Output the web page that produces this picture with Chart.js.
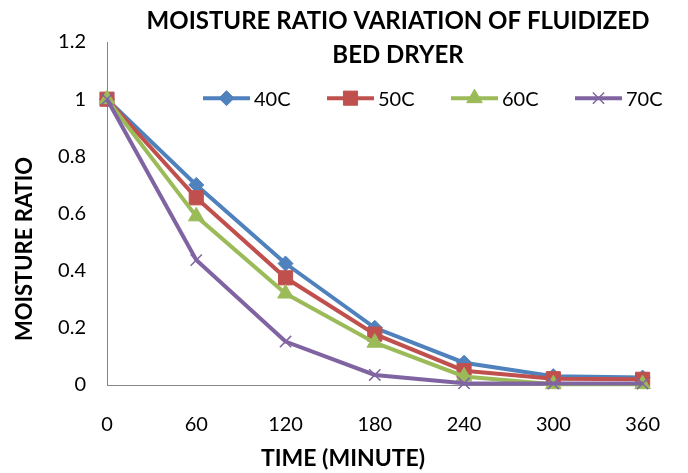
<!DOCTYPE html>
<html><head><meta charset="utf-8">
<script src="https://cdn.jsdelivr.net/npm/chart.js@4.4.1/dist/chart.umd.min.js"></script>
<style>html,body{margin:0;padding:0;background:#fff}canvas{display:block}</style>
</head><body>
<canvas id="c" width="688" height="473"></canvas>
<script>
// ---- data ----
const times = ['0','60','120','180','240','300','360'];
const mr40 = [1, 0.700, 0.425, 0.200, 0.078, 0.031, 0.026];
const mr50 = [1, 0.655, 0.375, 0.178, 0.050, 0.022, 0.020];
const mr60 = [1, 0.590, 0.320, 0.148, 0.030, 0.003, 0.003];
const mr70 = [1, 0.437, 0.152, 0.035, 0.006, 0.005, 0.005];
const seriesNames = ['40C', '50C', '60C', '70C'];
const yTickLabels = ['0', '0.2', '0.4', '0.6', '0.8', '1', '1.2'];
const chartTitle = ['MOISTURE RATIO VARIATION OF FLUIDIZED', 'BED DRYER'];
const xTitle = 'TIME (MINUTE)';
const yTitle = 'MOISTURE RATIO';

// ---- styles ----
const FONT = 'Lato, "Open Sans", Arial, sans-serif';
const colors = ['#4F81BD', '#C0504D', '#9BBB59', '#8064A2'];
const styles = [
  {pointStyle: 'rectRot', radius: 7.5, pbw: 1},
  {pointStyle: 'rect', radius: 10, pbw: 1},
  {pointStyle: 'triangle', radius: 9, pbw: 1},
  {pointStyle: 'crossRot', radius: 8, pbw: 1.5}
];
const values = [mr40, mr50, mr60, mr70];

const datasets = values.map((v, i) => ({
  label: seriesNames[i],
  data: v,
  borderColor: colors[i],
  backgroundColor: colors[i],
  borderWidth: 4,
  tension: 0,
  pointStyle: styles[i].pointStyle,
  pointRadius: styles[i].radius,
  pointHoverRadius: styles[i].radius,
  pointBorderWidth: styles[i].pbw,
  pointBackgroundColor: colors[i],
  pointBorderColor: colors[i],
  order: 4 - i,
  clip: false
}));

function drawMarker(ctx, style, x, y, r, color, bw) {
  ctx.save();
  ctx.fillStyle = color; ctx.strokeStyle = color; ctx.lineWidth = bw;
  ctx.beginPath();
  if (style === 'rectRot') {
    ctx.moveTo(x, y - r); ctx.lineTo(x + r, y); ctx.lineTo(x, y + r); ctx.lineTo(x - r, y); ctx.closePath();
    ctx.fill(); ctx.stroke();
  } else if (style === 'rect') {
    const s = r * Math.SQRT1_2;
    ctx.rect(x - s, y - s, 2 * s, 2 * s); ctx.fill(); ctx.stroke();
  } else if (style === 'triangle') {
    ctx.moveTo(x, y - r);
    ctx.lineTo(x + r * Math.cos(Math.PI / 6), y + r * 0.5);
    ctx.lineTo(x - r * Math.cos(Math.PI / 6), y + r * 0.5);
    ctx.closePath(); ctx.fill(); ctx.stroke();
  } else {
    const s = r * Math.SQRT1_2;
    ctx.moveTo(x - s, y - s); ctx.lineTo(x + s, y + s);
    ctx.moveTo(x + s, y - s); ctx.lineTo(x - s, y + s);
    ctx.stroke();
  }
  ctx.restore();
}

const textPlugin = {
  id: 'texts',
  afterDraw(chart) {
    const ctx = chart.ctx;
    ctx.save();
    ctx.fillStyle = '#000';
    // chart title
    ctx.font = 'bold 24px ' + FONT;
    ctx.textAlign = 'center';
    ctx.textBaseline = 'alphabetic';
    ctx.fillText(chartTitle[0], 398, 29);
    ctx.fillText(chartTitle[1], 398, 63);
    // x title
    ctx.font = 'bold 23px ' + FONT;
    ctx.fillText(xTitle, 343, 466);
    // y title
    ctx.save();
    ctx.translate(32, 249);
    ctx.rotate(-Math.PI / 2);
    ctx.font = 'bold 22px ' + FONT;
    ctx.fillText(yTitle, 0, 0);
    ctx.restore();
    // legend (overlaid inside plot area)
    ctx.font = '20px ' + FONT;
    ctx.textAlign = 'left';
    ctx.textBaseline = 'middle';
    const ly = chart.scales.y.getPixelForValue(1) - 1;
    seriesNames.forEach((name, i) => {
      const sx = 203 + i * 124;
      ctx.strokeStyle = colors[i];
      ctx.lineWidth = 4;
      ctx.beginPath(); ctx.moveTo(sx, ly); ctx.lineTo(sx + 47, ly); ctx.stroke();
      drawMarker(ctx, styles[i].pointStyle, sx + 23.5, ly, styles[i].radius, colors[i], styles[i].pbw);
      ctx.fillStyle = '#000';
      ctx.fillText(name, sx + 51, ly + 1);
    });
    ctx.restore();
  }
};

Chart.defaults.font.family = FONT;
Chart.defaults.color = '#000';

new Chart(document.getElementById('c'), {
  type: 'line',
  data: { labels: times, datasets },
  options: {
    responsive: false,
    animation: false,
    layout: { padding: { top: 42, right: 19, left: 0, bottom: 0 } },
    plugins: { legend: { display: false }, tooltip: { enabled: false }, title: { display: false } },
    scales: {
      x: {
        type: 'category',
        offset: false,
        grid: { display: false, drawTicks: false },
        border: { display: true, color: '#868686', width: 1 },
        ticks: { font: { size: 20 }, padding: 28, maxRotation: 0, autoSkip: false },
        afterFit(s) { s.height = 88; }
      },
      y: {
        min: 0, max: 1.2,
        grid: { display: false, drawTicks: false },
        border: { display: true, color: '#868686', width: 1 },
        ticks: {
          stepSize: 0.2, font: { size: 20 }, padding: 21,
          callback: (v) => yTickLabels[Math.round(v / 0.2)]
        },
        afterFit(s) { s.width = 107; }
      }
    }
  },
  plugins: [textPlugin]
});
</script>
</body></html>
